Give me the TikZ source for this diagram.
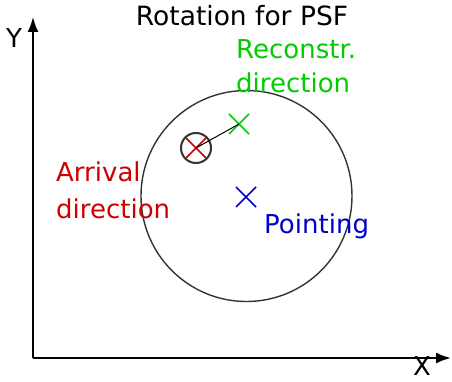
\documentclass[tikz,border=0pt]{standalone}
\usepackage{fontspec}
\setmainfont{DejaVu Sans}
\usetikzlibrary{arrows.meta,calc}
\definecolor{cgreen}{RGB}{0,204,0}
\definecolor{cred}{RGB}{204,0,0}
\definecolor{cblue}{RGB}{0,0,204}
\definecolor{cgray}{RGB}{51,51,51}
\begin{document}
\begin{tikzpicture}[x=1pt,y=-1pt,
  lbl/.style={font=\fontsize{26}{35}\selectfont, inner sep=0pt, align=left, anchor=base west},
  axlbl/.style={font=\fontsize{26}{30}\selectfont, inner sep=0pt, anchor=base west},
  axis/.style={line width=2pt, -{Latex[length=15pt,width=11pt]}},
  crossline/.style={line width=1.5pt}]
\useasboundingbox (0,0) rectangle (452,382);
\coordinate (O) at (33,358);
\coordinate (Ytip) at (33,17);
\coordinate (Xtip) at (451,358);
\draw[axis] (O) -- (Ytip);
\draw[axis] (O) -- (Xtip);
\node[axlbl] (ylab) at (6,48) {Y};
\node[axlbl] (xlab) at (413,375) {X};
\node[lbl, anchor=base, font=\fontsize{26.5}{30}\selectfont] (title) at (242,26) {Rotation for PSF};
\node[draw=cgray, line width=1.4pt, circle, minimum size=211pt, inner sep=0pt] (big) at (246.5,196) {};
\coordinate (arr) at (196,148);
\coordinate (rec) at (239,124);
\coordinate (pt) at (246,197);
\node[draw=cgray, line width=2pt, circle, minimum size=30pt, inner sep=0pt] (small) at (arr) {};
\draw[crossline, cred] ($(arr)+(-10,-10)$) -- ($(arr)+(10,10)$) ($(arr)+(-10,10)$) -- ($(arr)+(10,-10)$);
\draw[crossline, cgreen] ($(rec)+(-10,-10)$) -- ($(rec)+(10,10)$) ($(rec)+(-10,10)$) -- ($(rec)+(10,-10)$);
\draw[crossline, cblue] ($(pt)+(-10,-10)$) -- ($(pt)+(10,10)$) ($(pt)+(-10,10)$) -- ($(pt)+(10,-10)$);
\draw[line width=1pt] (arr) -- (rec);
\node[lbl, text=cgreen, font=\fontsize{26}{34}\selectfont] (reclab) at (236,93) {Reconstr.\\direction};
\node[lbl, text=cred, font=\fontsize{26}{36}\selectfont] (arrlab) at (56,218) {Arrival\\direction};
\node[lbl, text=cblue] (ptlab) at (264,233) {Pointing};
\end{tikzpicture}
\end{document}
